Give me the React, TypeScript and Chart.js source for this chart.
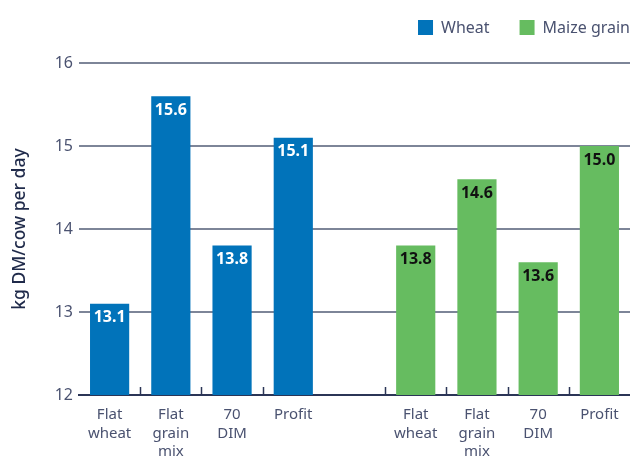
import React, { useEffect, useRef } from "react";
import { Chart, registerables } from "chart.js";

Chart.register(...registerables);

const categories: (string | string[])[] = [
  ["Flat", "wheat"],
  ["Flat", "grain", "mix"],
  ["70", "DIM"],
  ["Profit"],
  "",
  ["Flat", "wheat"],
  ["Flat", "grain", "mix"],
  ["70", "DIM"],
  ["Profit"],
];
const wheatValues: (number | null)[] = [13.1, 15.6, 13.8, 15.1, null, null, null, null, null];
const maizeValues: (number | null)[] = [null, null, null, null, null, 13.8, 14.6, 13.6, 15.0];
const seriesNames = ["Wheat", "Maize grain"];
const yMin = 12;
const yMax = 16;

const BLUE = "#0173BA";
const GREEN = "#66BC60";
const TEXT = "#4a5270";
const DARK = "#2b3556";
const GRID = "#7d8598";
const FONT = "'Noto Sans', sans-serif";

const valueLabels = {
  id: "valueLabels",
  afterDatasetsDraw(chart: any) {
    const ctx = chart.ctx;
    ctx.save();
    ctx.font = `bold 16px ${FONT}`;
    ctx.textAlign = "center";
    ctx.textBaseline = "middle";
    chart.data.datasets.forEach((ds: any, di: number) => {
      const meta = chart.getDatasetMeta(di);
      meta.data.forEach((el: any, i: number) => {
        const v = ds.data[i];
        if (v == null) return;
        ctx.fillStyle = di === 0 ? "#ffffff" : "#111111";
        ctx.fillText(v.toFixed(1), el.x, el.y + 14);
      });
    });
    ctx.restore();
  },
};

const axisTicks = {
  id: "axisTicks",
  afterDraw(chart: any) {
    const ctx = chart.ctx;
    const x = chart.scales.x;
    const bottom = chart.chartArea.bottom;
    ctx.save();
    ctx.strokeStyle = DARK;
    ctx.lineWidth = 1.5;
    const n = categories.length;
    for (let i = 0; i < n - 1; i++) {
      if (i === 3) continue;
      const px = Math.round((x.getPixelForValue(i) + x.getPixelForValue(i + 1)) / 2) + 0.5;
      ctx.beginPath();
      ctx.moveTo(px, bottom - 1);
      ctx.lineTo(px, bottom - 8);
      ctx.stroke();
    }
    ctx.restore();
  },
};

const customLegend = {
  id: "customLegend",
  afterDraw(chart: any) {
    const ctx = chart.ctx;
    ctx.save();
    ctx.font = `16px ${FONT}`;
    ctx.textBaseline = "middle";
    const box = 15;
    const gap = 8;
    const itemGap = 30;
    const colors = [BLUE, GREEN];
    const widths = seriesNames.map((s) => box + gap + ctx.measureText(s).width);
    const total = widths.reduce((a, b) => a + b, 0) + itemGap * (seriesNames.length - 1);
    let x = chart.chartArea.right - total;
    const y = 20;
    seriesNames.forEach((s, i) => {
      ctx.fillStyle = colors[i];
      ctx.fillRect(x, y, box, box);
      ctx.fillStyle = TEXT;
      ctx.fillText(s, x + box + gap, y + box / 2 + 1);
      x += widths[i] + itemGap;
    });
    ctx.restore();
  },
};

export default function App() {
  const ref = useRef<HTMLCanvasElement>(null);
  useEffect(() => {
    document.body.style.margin = "0";
    const chart = new Chart(ref.current!, {
      type: "bar",
      data: {
        labels: categories,
        datasets: [
          {
            label: seriesNames[0],
            data: wheatValues,
            backgroundColor: BLUE,
            grouped: false,
            barPercentage: 0.64,
            categoryPercentage: 1,
          } as any,
          {
            label: seriesNames[1],
            data: maizeValues,
            backgroundColor: GREEN,
            grouped: false,
            barPercentage: 0.64,
            categoryPercentage: 1,
          } as any,
        ],
      },
      options: {
        animation: false,
        responsive: false,
        layout: { padding: { top: 63, left: 0, right: 0, bottom: 0 } },
        plugins: { legend: { display: false }, tooltip: { enabled: false } },
        scales: {
          x: {
            grid: { display: false },
            border: { display: true, color: DARK, width: 2 },
            ticks: {
              color: TEXT,
              font: { family: FONT, size: 15, lineHeight: 1.22 },
              padding: 3,
              maxRotation: 0,
              autoSkip: false,
            },
            afterFit(scale: any) {
              scale.height = 61;
            },
          },
          y: {
            min: yMin,
            max: yMax,
            border: { display: false },
            grid: {
              color: (c: any) => (c.tick && c.tick.value === yMin ? DARK : GRID),
              lineWidth: 2,
              drawTicks: false,
            },
            ticks: {
              stepSize: 1,
              color: TEXT,
              padding: 6,
              font: { family: FONT, size: 16 },
            },
            title: {
              display: true,
              text: "kg DM/cow per day",
              color: "#1f2a4a",
              font: { family: FONT, size: 17.5, weight: "500" },
              padding: { top: 10, bottom: 10 },
            },
            afterFit(scale: any) {
              scale.width = 79;
            },
          },
        },
      },
      plugins: [valueLabels, axisTicks, customLegend],
    });
    return () => chart.destroy();
  }, []);
  return (
    <div style={{ width: 630, height: 456 }}>
      <canvas ref={ref} width={630} height={456} style={{ display: "block" }} />
    </div>
  );
}
